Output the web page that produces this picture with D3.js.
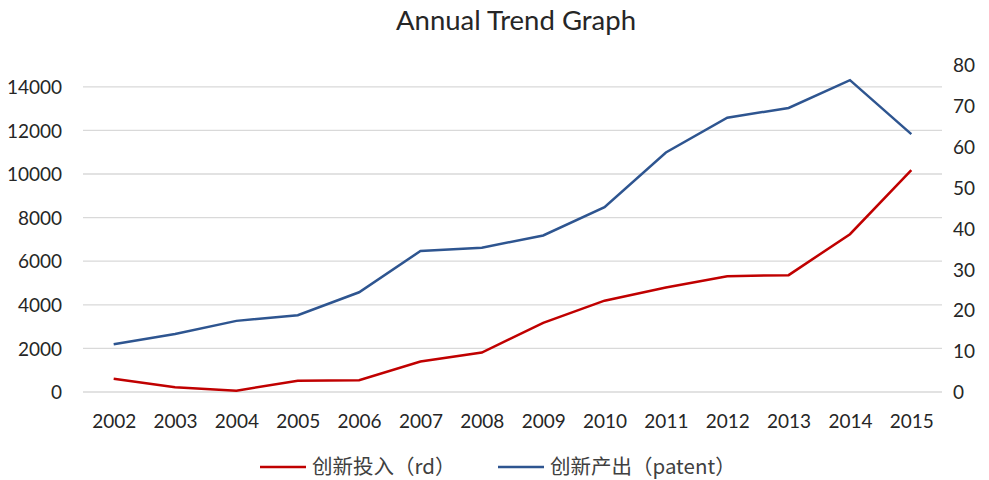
<!DOCTYPE html>
<html>
<head>
<meta charset="utf-8">
<script src="https://cdn.jsdelivr.net/npm/d3@7"></script>
<style>
  body { margin: 0; background: #fff; }
  text { font-family: Lato, "Noto Sans CJK SC", sans-serif; fill: #262626; }
</style>
</head>
<body>
<div id="chart"></div>
<script>
// categories and series
const years = ["2002", "2003", "2004", "2005", "2006", "2007", "2008",
               "2009", "2010", "2011", "2012", "2013", "2014", "2015"];
const rd = [610, 220, 60, 520, 540, 1400, 1810, 3170, 4190, 4790, 5310, 5360, 7240, 10180];
const patent = [11.7, 14.2, 17.4, 18.8, 24.4, 34.5, 35.3, 38.3, 45.2, 58.6, 67.1, 69.5, 76.3, 63.1];
const leftTicks = [0, 2000, 4000, 6000, 8000, 10000, 12000, 14000];
const rightTicks = [0, 10, 20, 30, 40, 50, 60, 70, 80];
const seriesNames = ["创新投入（rd）", "创新产出（patent）"];

const W = 989, H = 480;
const margin = { top: 65, right: 47, bottom: 88, left: 83 };
const width = W - margin.left - margin.right,
      height = H - margin.top - margin.bottom;

const svg = d3.select("#chart").append("svg")
    .attr("width", W)
    .attr("height", H);

// title
svg.append("text")
    .attr("x", 516)
    .attr("y", 30)
    .attr("text-anchor", "middle")
    .style("font-size", "27.5px")
    .text("Annual Trend Graph");

const g = svg.append("g")
    .attr("transform", `translate(${margin.left},${margin.top})`);

const x = d3.scalePoint().domain(years).range([0, width]).padding(0.5);
const yL = d3.scaleLinear().domain([0, 15000]).range([height, 0]);
const yR = d3.scaleLinear().domain([0, 80]).range([height, 0]);

// gridlines on the left axis ticks
g.append("g")
    .selectAll("line")
    .data(leftTicks)
    .join("line")
    .attr("x1", 0)
    .attr("x2", width)
    .attr("y1", d => yL(d))
    .attr("y2", d => yL(d))
    .attr("stroke", "#d9d9d9")
    .attr("stroke-width", 1.3);

// left axis
const axL = g.append("g")
    .call(d3.axisLeft(yL).tickValues(leftTicks).tickSize(0).tickPadding(21).tickFormat(d3.format("d")));
axL.select(".domain").remove();
axL.selectAll("text").style("font-size", "19px").attr("dy", "0.35em");

// right axis
const axR = g.append("g")
    .attr("transform", `translate(${width},0)`)
    .call(d3.axisRight(yR).tickValues(rightTicks).tickSize(0).tickPadding(11));
axR.select(".domain").remove();
axR.selectAll("text").style("font-size", "19px").attr("dy", "0.35em");

// bottom axis
const axB = g.append("g")
    .attr("transform", `translate(0,${height})`)
    .call(d3.axisBottom(x).tickSize(0).tickPadding(23));
axB.select(".domain").remove();
axB.selectAll("text").style("font-size", "19px");

// lines
const lineL = d3.line().x((d, i) => x(years[i])).y(d => yL(d));
const lineR = d3.line().x((d, i) => x(years[i])).y(d => yR(d));

g.append("path")
    .datum(rd)
    .attr("fill", "none")
    .attr("stroke", "#c00000")
    .attr("stroke-width", 2.5)
    .attr("d", lineL);

g.append("path")
    .datum(patent)
    .attr("fill", "none")
    .attr("stroke", "#2e5590")
    .attr("stroke-width", 2.5)
    .attr("d", lineR);

// legend
const colors = ["#c00000", "#2e5590"];
const legendX = [260, 498];
const legend = svg.append("g")
    .selectAll("g")
    .data(seriesNames)
    .join("g")
    .attr("transform", (d, i) => `translate(${legendX[i]},467)`);
legend.append("line")
    .attr("x1", 0).attr("x2", 46)
    .attr("stroke", (d, i) => colors[i])
    .attr("stroke-width", 2.5);
legend.append("text")
    .attr("x", 52)
    .attr("dy", "0.35em")
    .style("font-size", "20.5px")
    .style("font-family", "'Noto Sans CJK SC', sans-serif")
    .style("fill", "#404040")
    .text(d => d);
</script>
</body>
</html>
